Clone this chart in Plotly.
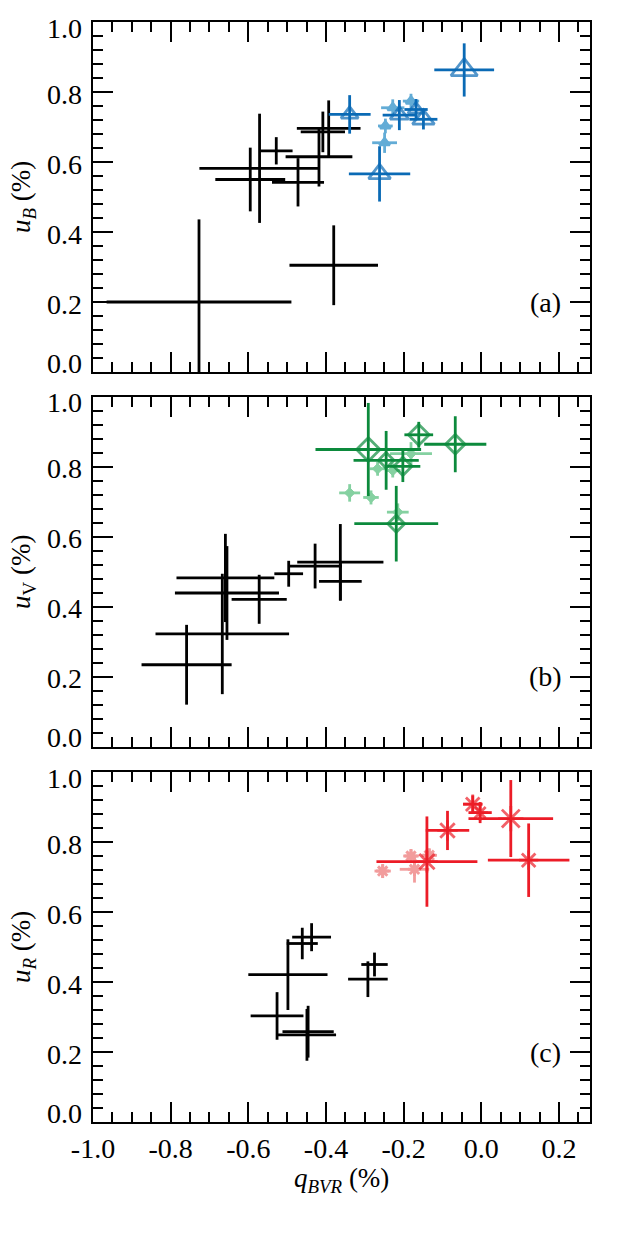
import plotly.graph_objects as go

# ---------------- data ----------------
# Panel (a): u_B vs q_BVR
xA_black = [-0.727, -0.380, -0.595, -0.571, -0.528, -0.472, -0.418, -0.408, -0.393]
yA_black = [0.200, 0.305, 0.550, 0.582, 0.632, 0.542, 0.615, 0.686, 0.696]
exA_black = [0.238, 0.114, 0.090, 0.155, 0.042, 0.067, 0.086, 0.057, 0.082]
eyA_black = [0.236, 0.114, 0.091, 0.156, 0.039, 0.069, 0.085, 0.058, 0.080]

xA_dark = [-0.044, -0.339, -0.262, -0.211, -0.168, -0.149]
yA_dark = [0.863, 0.736, 0.566, 0.734, 0.750, 0.722]
exA_dark = [0.077, 0.054, 0.079, 0.043, 0.030, 0.036]
eyA_dark = [0.076, 0.055, 0.079, 0.043, 0.030, 0.029]

xA_light = [-0.249, -0.247, -0.228, -0.181]
yA_light = [0.655, 0.703, 0.755, 0.774]
exA_light = [0.032, 0.019, 0.030, 0.021]
eyA_light = [0.029, 0.021, 0.024, 0.021]

# Panel (b): u_V vs q_BVR
xB_black = [-0.759, -0.667, -0.659, -0.655, -0.572, -0.496, -0.428, -0.363, -0.363]
yB_black = [0.235, 0.323, 0.483, 0.440, 0.422, 0.495, 0.517, 0.528, 0.473]
exB_black = [0.116, 0.172, 0.126, 0.134, 0.071, 0.037, 0.069, 0.111, 0.055]
eyB_black = [0.114, 0.172, 0.126, 0.134, 0.070, 0.037, 0.064, 0.109, 0.055]

xB_dark = [-0.291, -0.245, -0.202, -0.161, -0.067, -0.219]
yB_dark = [0.850, 0.819, 0.802, 0.892, 0.865, 0.638]
exB_dark = [0.136, 0.084, 0.045, 0.037, 0.080, 0.108]
eyB_dark = [0.133, 0.084, 0.045, 0.037, 0.080, 0.108]

xB_light = [-0.339, -0.284, -0.267, -0.228, -0.181, -0.215]
yB_light = [0.726, 0.713, 0.795, 0.790, 0.838, 0.671]
exB_light = [0.027, 0.020, 0.020, 0.020, 0.054, 0.028]
eyB_light = [0.025, 0.020, 0.020, 0.020, 0.033, 0.025]

# Panel (c): u_R vs q_BVR
xC_black = [-0.498, -0.526, -0.446, -0.449, -0.461, -0.437, -0.292, -0.275]
yC_black = [0.421, 0.303, 0.258, 0.249, 0.510, 0.528, 0.408, 0.450]
exC_black = [0.102, 0.068, 0.066, 0.075, 0.040, 0.050, 0.051, 0.034]
eyC_black = [0.101, 0.068, 0.074, 0.074, 0.045, 0.040, 0.051, 0.034]

xC_dark = [-0.140, -0.087, -0.022, -0.003, 0.076, 0.122]
yC_dark = [0.744, 0.833, 0.908, 0.884, 0.867, 0.748]
exC_dark = [0.130, 0.056, 0.025, 0.030, 0.109, 0.105]
eyC_dark = [0.129, 0.056, 0.025, 0.030, 0.110, 0.105]

xC_light = [-0.254, -0.181, -0.172, -0.134]
yC_light = [0.717, 0.760, 0.722, 0.762]
exC_light = [0.021, 0.020, 0.038, 0.020]
eyC_light = [0.020, 0.020, 0.038, 0.020]

y_tick_vals = [0.0, 0.2, 0.4, 0.6, 0.8, 1.0]
y_tick_text = ["0.0", "0.2", "0.4", "0.6", "0.8", "1.0"]
x_tick_vals = [-1.0, -0.8, -0.6, -0.4, -0.2, 0.0, 0.2]
x_tick_text = ["-1.0", "-0.8", "-0.6", "-0.4", "-0.2", "0.0", "0.2"]
panel_labels = ["(a)", "(b)", "(c)"]
y_titles = ["<i>u</i><sub><i>B</i></sub> (%)", "<i>u</i><sub>V</sub> (%)", "<i>u</i><sub><i>R</i></sub> (%)"]
x_title = "<i>q</i><sub><i>BVR</i></sub> (%)"

# ---------------- styles ----------------
FONT = "Liberation Serif, Times New Roman, serif"
FS = 28
W, H = 623, 1246
ML, MR, MT, MB = 93, 33, 22, 124
EW = 2.8
PW = W - ML - MR

sizes_A = [23, 15, 19, 16, 14, 19]
sizes_B = [18, 12, 14, 16, 15, 13]
sizes_C = [18, 17, 16, 13, 21, 16]

panels = [
    dict(k=(xA_black, yA_black, exA_black, eyA_black),
         d=(xA_dark, yA_dark, exA_dark, eyA_dark),
         l=(xA_light, yA_light, exA_light, eyA_light),
         dcol="#0a6ab5", lcol="#63acd6", dsym="triangle-up-open", lsym="triangle-up-open",
         dsizes=sizes_A, lsize=9, lwidth=2.6),
    dict(k=(xB_black, yB_black, exB_black, eyB_black),
         d=(xB_dark, yB_dark, exB_dark, eyB_dark),
         l=(xB_light, yB_light, exB_light, eyB_light),
         dcol="#0c8a3c", lcol="#85d1a1", dsym="diamond-open", lsym="diamond",
         dsizes=sizes_B, lsize=8, lwidth=1),
    dict(k=(xC_black, yC_black, exC_black, eyC_black),
         d=(xC_dark, yC_dark, exC_dark, eyC_dark),
         l=(xC_light, yC_light, exC_light, eyC_light),
         dcol="#ec1c27", lcol="#f29c9c", dsym="asterisk-open", lsym="asterisk-open",
         dsizes=sizes_C, lsize=11, lwidth=3),
]

plot_h = H - MT - MB
ptop = [0, 375, 750]
domains = [[1 - (t + 350) / plot_h, 1 - t / plot_h] for t in ptop]

fig = go.Figure()
for i, p in enumerate(panels):
    sfx = "" if i == 0 else str(i + 1)
    xa, ya = "x" + sfx, "y" + sfx

    def add(data, color, sym, size, lw):
        x, y, ex, ey = data
        fig.add_trace(go.Scatter(
            x=x, y=y, mode="markers", xaxis=xa, yaxis=ya, showlegend=False, hoverinfo="skip",
            marker=dict(symbol=sym, size=size, color=color, line=dict(color=color, width=lw)),
            error_x=dict(type="data", array=ex, visible=True, color=color, thickness=EW, width=0),
            error_y=dict(type="data", array=ey, visible=True, color=color, thickness=EW, width=0),
        ))

    add(p["k"], "black", "circle", 1, 0)
    add(p["l"], p["lcol"], p["lsym"], p["lsize"], p["lwidth"])
    add(p["d"], p["dcol"], p["dsym"], p["dsizes"], 2.8)

    axis_common = dict(showline=True, linewidth=2.2, linecolor="black", mirror="allticks",
                       ticks="inside", tickwidth=2, tickcolor="black", showgrid=False,
                       zeroline=False, tickfont=dict(family=FONT, size=FS, color="black"))
    fig.layout["xaxis" + sfx] = dict(
        axis_common, domain=[0, 1], anchor=ya, range=[-1.0, 0.28],
        tickvals=x_tick_vals, ticktext=x_tick_text, ticklen=20,
        showticklabels=(i == 2), ticklabelstandoff=0,
        minor=dict(ticks="inside", ticklen=10, tickwidth=2, tickcolor="black", dtick=0.05,
                   tick0=0, showgrid=False),
    )
    fig.layout["yaxis" + sfx] = dict(
        axis_common, domain=domains[i], anchor=xa, range=[0.0, 1.0],
        tickvals=y_tick_vals, ticklen=20, showticklabels=False,
        minor=dict(ticks="inside", ticklen=10, tickwidth=2, tickcolor="black", dtick=0.04,
                   tick0=0, showgrid=False),
    )
    # y tick labels (end labels nudged inward, as in the reference)
    for v, t in zip(y_tick_vals, y_tick_text):
        shift = 9 if v == 0.0 else (-6 if v == 1.0 else -2)
        fig.add_annotation(xref="paper", yref=ya, x=(84 - ML) / PW, y=v, text=t,
                           showarrow=False, xanchor="right", yanchor="middle", yshift=shift,
                           font=dict(family=FONT, size=FS, color="black"))
    fig.add_annotation(xref=xa, yref=ya, x=0.166, y=0.2, text=panel_labels[i], showarrow=False,
                       font=dict(family=FONT, size=FS, color="black"), xanchor="center", yanchor="middle")
    fig.add_annotation(xref="paper", yref="paper", x=(23 - ML) / PW,
                       y=(domains[i][0] + domains[i][1]) / 2, text=y_titles[i], textangle=-90,
                       showarrow=False, font=dict(family=FONT, size=27, color="black"),
                       xanchor="center", yanchor="middle")

fig.add_annotation(xref="paper", yref="paper", x=0.5, y=-(1180 - (H - MB)) / plot_h,
                   text=x_title, showarrow=False, font=dict(family=FONT, size=27, color="black"),
                   xanchor="center", yanchor="middle")

fig.update_layout(width=W, height=H, margin=dict(l=ML, r=MR, t=MT, b=MB),
                  paper_bgcolor="white", plot_bgcolor="white", hovermode=False)
fig.write_html("out.html", config={"displayModeBar": False, "staticPlot": True},
               post_script="document.body.style.margin='0px';")
